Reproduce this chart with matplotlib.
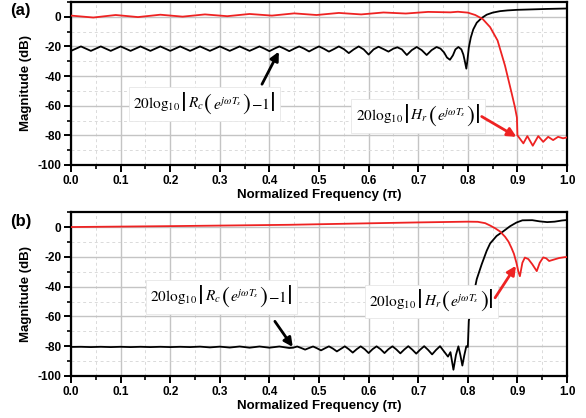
import numpy as np
import matplotlib
matplotlib.use("Agg")
from matplotlib import pyplot as plt
from matplotlib.offsetbox import TextArea, HPacker, AnnotationBbox


# ---- panel (a) ----
# black, regular ripple part sampled every 0.01 from 0.0 to 0.64
a_black_f1 = np.linspace(0.0, 0.64, 65)
a_black_db1 = [
    -23.0, -21.5, -20.0, -21.5, -23.0, -21.5, -20.0, -21.5, -23.0, -21.5,
    -20.0, -21.5, -23.0, -21.5, -20.0, -21.5, -23.0, -21.5, -20.0, -21.5,
    -23.0, -21.5, -20.0, -21.5, -23.0, -21.5, -20.0, -21.5, -23.0, -21.5,
    -20.0, -21.5, -23.0, -21.5, -20.0, -21.5, -23.0, -21.5, -20.0, -21.5,
    -23.2, -21.5, -20.0, -21.5, -23.2, -21.5, -20.0, -21.5, -23.4, -21.6,
    -20.0, -21.6, -23.5, -21.8, -20.0, -21.8, -24.5, -22.0, -20.0, -22.0,
    -25.5, -22.0, -20.2, -21.8, -23.5,
]
# black, transition part
a_black_f2 = [0.65, 0.658, 0.667, 0.677, 0.687, 0.697, 0.707, 0.717, 0.727,
              0.737, 0.745, 0.752, 0.758, 0.764, 0.770, 0.775, 0.781, 0.787,
              0.791, 0.794, 0.797, 0.799, 0.802, 0.806, 0.811, 0.818, 0.828,
              0.838, 0.850, 0.865, 0.880, 0.900, 0.930, 0.960, 1.0]
a_black_db2 = [-21.5, -20.6, -22.0, -25.8, -22.5, -20.4, -22.5, -25.8, -22.5,
               -20.4, -21.5, -24.0, -27.5, -29.0, -26.0, -22.0, -20.4, -22.0,
               -25.5, -30.0, -35.0, -30.0, -20.8, -14.0, -8.5, -4.0, -0.8,
               1.4, 2.8, 3.8, 4.3, 4.7, 5.0, 5.3, 5.6]

a_red_f = [0.0, 0.045, 0.09, 0.135, 0.18, 0.225, 0.27, 0.315, 0.36, 0.405,
           0.45, 0.495, 0.54, 0.585, 0.63, 0.675, 0.72, 0.765, 0.78, 0.80,
           0.815, 0.83, 0.845, 0.86, 0.875, 0.888, 0.895, 0.899, 0.90,
           0.912, 0.92, 0.931, 0.942, 0.952, 0.962, 0.972, 0.982, 0.992, 1.0]
a_red_db = [0.8, -0.5, 1.2, -0.2, 1.4, 0.1, 1.6, 0.4, 1.9, 0.8,
            2.3, 1.2, 2.6, 1.6, 2.9, 2.2, 3.3, 3.0, 3.4, 2.8,
            1.2, -1.5, -7.0, -16.0, -33.0, -51.0, -61.0, -68.0, -80.0,
            -85.4, -80.5, -87.0, -80.5, -84.4, -81.0, -83.2, -81.0, -82.0, -81.4]

# ---- panel (b) ----
b_black_f1 = np.linspace(0.0, 0.44, 23)
b_black_db1 = [
    -80.5, -80.4, -80.6, -80.4, -80.6, -80.4, -80.6, -80.4, -80.6, -80.4,
    -80.6, -80.4, -80.6, -80.3, -80.8, -80.3, -80.9, -80.2, -81.0, -80.2,
    -81.0, -80.2, -81.2,
]
# sampled every 0.008 from 0.448 to 0.76
b_black_f2 = np.linspace(0.448, 0.76, 40)
b_black_db2 = [
    -81.0, -80.2, -81.2, -82.3, -81.2, -80.2, -81.4, -82.8, -81.4, -80.1,
    -81.6, -83.5, -81.8, -80.1, -82.0, -84.3, -82.0, -80.1, -82.0, -84.6,
    -82.0, -80.1, -82.0, -84.6, -82.0, -80.1, -82.2, -84.8, -82.2, -80.0,
    -82.3, -85.0, -82.3, -80.0, -82.5, -85.5, -82.5, -80.0, -83.5, -87.0,
]
b_black_f3 = [0.765, 0.771, 0.776, 0.781, 0.785, 0.789, 0.793, 0.797, 0.80,
              0.802, 0.81, 0.818, 0.828, 0.838, 0.845, 0.858, 0.871, 0.885,
              0.898, 0.91, 0.93, 0.945, 0.96, 0.975, 0.99, 1.0]
b_black_db3 = [-84.0, -95.8, -86.0, -80.1, -86.0, -93.0, -86.0, -80.0, -80.5,
               -63.0, -48.0, -35.0, -25.0, -16.0, -11.0, -6.0, -3.0, 0.5,
               3.0, 4.5, 4.6, 3.8, 3.3, 3.6, 4.4, 4.7]

b_red_f = [0.0, 0.2, 0.44, 0.6, 0.7, 0.8, 0.82, 0.835, 0.845, 0.855, 0.865,
           0.875, 0.882, 0.888, 0.893, 0.898, 0.902, 0.905, 0.91, 0.915,
           0.922, 0.93, 0.939, 0.945, 0.952, 0.958, 0.964, 0.972, 0.984,
           0.996, 1.0]
b_red_db = [0.0, 0.6, 1.5, 2.5, 3.1, 3.6, 3.5, 2.6, 1.0, -0.8, -3.0,
            -6.5, -9.8, -14.0, -18.0, -24.0, -30.0, -33.0, -24.0, -20.5,
            -21.5, -25.0, -29.6, -24.0, -20.4, -21.0, -22.8, -22.0, -20.8,
            -20.2, -20.2]

x_ticks = [0.0, 0.1, 0.2, 0.3, 0.4, 0.5, 0.6, 0.7, 0.8, 0.9, 1.0]
x_minor = [0.05, 0.15, 0.25, 0.35, 0.45, 0.55, 0.65, 0.75, 0.85, 0.95]
y_ticks = [0, -20, -40, -60, -80, -100]
y_minor = [10, -10, -30, -50, -70, -90]

# formula pieces: (text, size); big sizes are the tall bars and parentheses
rc_pieces = [(r"$20\log_{10}$", 11), ("|", 21), (r"$R_c$", 11), ("(", 17),
             (r"$e^{j\omega T_s}$", 11), (")", 17), (r"$-1$", 11), ("|", 21)]
hr_pieces = [(r"$20\log_{10}$", 11), ("|", 21), (r"$H_r$", 11), ("(", 17),
             (r"$e^{j\omega T_s}$", 11), (")", 17), ("|", 21)]

RED = "#ee2222"

plt.rcParams["font.family"] = ["Liberation Sans", "DejaVu Sans"]
plt.rcParams["mathtext.fontset"] = "stix"
plt.rcParams["axes.unicode_minus"] = False


def style_axes(ax):
    ax.set_xlim(0, 1.0)
    ax.set_ylim(-100, 10)
    ax.set_xticks(x_ticks)
    ax.set_xticklabels(["%.1f" % v for v in x_ticks])
    ax.set_xticks(x_minor, minor=True)
    ax.set_yticks(y_ticks)
    ax.set_yticklabels(["%d" % v for v in y_ticks])
    ax.set_yticks(y_minor, minor=True)
    ax.grid(which="major", color="#c4c4c4", lw=1.0, ls="-")
    ax.grid(which="minor", color="#dadada", lw=0.7, ls=(0, (3, 3)))
    ax.set_axisbelow(True)
    for s in ax.spines.values():
        s.set_linewidth(1.6)
    ax.tick_params(which="major", direction="out", length=5, width=1.4,
                   labelsize=8.5, pad=2)
    ax.tick_params(which="minor", direction="out", length=3, width=1.2)
    for lab in ax.get_xticklabels() + ax.get_yticklabels():
        lab.set_fontweight("bold")
    ax.set_xlabel("Normalized Frequency (\u03c0)", fontsize=9.5,
                  fontweight="bold", labelpad=2)
    ax.set_ylabel("Magnitude (dB)", fontsize=9.5, fontweight="bold",
                  labelpad=4)


def label_box(ax, x, y, pieces):
    kids = []
    for txt, size in pieces:
        kids.append(TextArea(txt, textprops=dict(
            fontsize=size, family=["STIXGeneral", "Liberation Serif"],
            color="black")))
    pack = HPacker(children=kids, align="center", pad=0, sep=0.5)
    ab = AnnotationBbox(pack, (x, y), xycoords="data", frameon=True,
                        pad=0.35, box_alignment=(0.5, 0.5), zorder=5,
                        bboxprops=dict(boxstyle="square", fc="white",
                                       ec="#e6e6e6", lw=0.6))
    ax.add_artist(ab)


def arrow(ax, head, tail, color):
    ax.annotate("", xy=head, xytext=tail, zorder=6,
                arrowprops=dict(arrowstyle="-|>", color=color, lw=2.0,
                                mutation_scale=13, shrinkA=0, shrinkB=0))


fig = plt.figure(figsize=(5.86, 4.18), dpi=100)
ax1 = fig.add_axes([0.1212, 0.6053, 0.8464, 0.39])
ax2 = fig.add_axes([0.1212, 0.1005, 0.8464, 0.392])

# (a)
ax1.plot(np.concatenate([a_black_f1, a_black_f2]), a_black_db1 + a_black_db2,
         color="black", lw=1.3, zorder=3)
ax1.plot(a_red_f, a_red_db, color=RED, lw=1.3, zorder=3)
style_axes(ax1)
label_box(ax1, 0.269, -59, rc_pieces)
label_box(ax1, 0.70, -67, hr_pieces)
arrow(ax1, (0.419, -23.5), (0.385, -45.5), "black")
arrow(ax1, (0.898, -81), (0.828, -67.3), RED)

# (b)
ax2.plot(np.concatenate([b_black_f1, b_black_f2, b_black_f3]),
         b_black_db1 + b_black_db2 + b_black_db3,
         color="black", lw=1.3, zorder=3)
ax2.plot(b_red_f, b_red_db, color=RED, lw=1.3, zorder=3)
style_axes(ax2)
label_box(ax2, 0.304, -47, rc_pieces)
label_box(ax2, 0.727, -50, hr_pieces)
arrow(ax2, (0.447, -80.5), (0.411, -63.3), "black")
arrow(ax2, (0.897, -26), (0.855, -47.5), RED)

fig.text(0.017, 0.975, "(a)", fontsize=12, fontweight="bold", va="center")
fig.text(0.017, 0.469, "(b)", fontsize=12, fontweight="bold", va="center")

fig.savefig("out.png", dpi=100)
